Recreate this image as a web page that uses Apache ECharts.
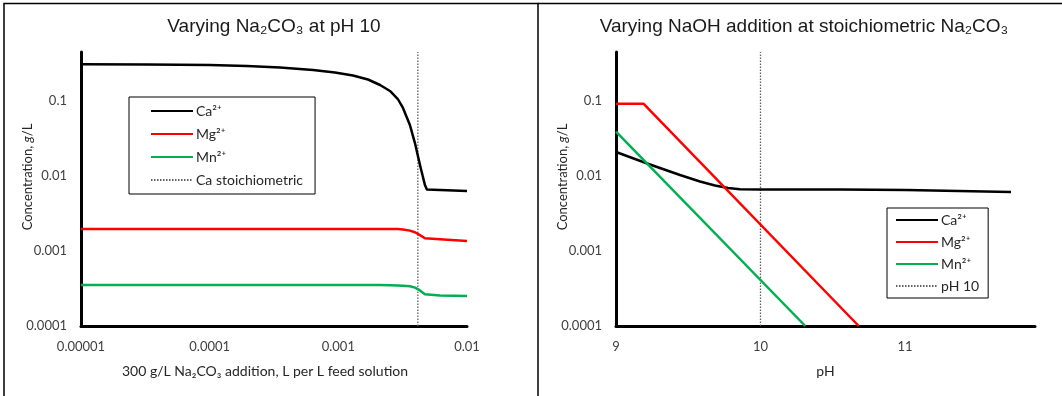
<!DOCTYPE html>
<html>
<head>
<meta charset="utf-8">
<script src="https://cdn.jsdelivr.net/npm/echarts@6/dist/echarts.min.js"></script>
<style>
  html, body { margin: 0; padding: 0; background: #fff; }
  #chart { width: 1062px; height: 396px; }
</style>
</head>
<body>
<div id="chart"></div>
<script>
// Left panel: 300 g/L Na2CO3 dose (L per L feed) at pH 10
const doseLperL = [1e-5, 3.26e-5, 1e-4, 1.95e-4, 3.52e-4, 6.36e-4, 9.41e-4, 1.30e-3, 1.70e-3, 2.11e-3, 2.52e-3, 2.90e-3, 3.18e-3, 3.60e-3, 3.94e-3, 4.31e-3, 4.71e-3, 4.88e-3, 6.16e-3, 1e-2];
const caVsDose = [0.308, 0.306, 0.301, 0.293, 0.280, 0.259, 0.240, 0.219, 0.1935, 0.1634, 0.136, 0.1063, 0.0807, 0.0479, 0.0275, 0.0140, 0.00759, 0.0066, 0.0065, 0.0063];
const mgVsDose = [0.00197, 0.00197, 0.00197, 0.00197, 0.00197, 0.00197, 0.00197, 0.00197, 0.00197, 0.00197, 0.00197, 0.00196, 0.00194, 0.00187, 0.00178, 0.00163, 0.00148, 0.00145, 0.00143, 0.00136];
const mnVsDose = [0.000352, 0.000352, 0.000352, 0.000352, 0.000352, 0.000352, 0.000352, 0.000352, 0.000352, 0.000352, 0.000350, 0.000348, 0.000345, 0.000338, 0.000325, 0.000298, 0.000265, 0.000259, 0.000255, 0.000251];
const caStoichDose = 4.15e-3;

// Right panel: NaOH addition expressed as pH, stoichiometric Na2CO3
const caPH = [9, 9.235, 9.443, 9.581, 9.685, 9.775, 9.858, 9.997, 10.55, 11.007, 11.734];
const caVsPH = [0.0209, 0.01424, 0.01031, 0.00845, 0.00747, 0.00692, 0.00667, 0.00661, 0.00661, 0.00651, 0.00612];
const mgPH = [9, 9.19, 10.68];
const mgVsPH = [0.092, 0.092, 0.0001];
const mnPH = [9, 10.31];
const mnVsPH = [0.039, 0.0001];
const referencePH = 10;

const concMin = 0.0001, concMax = 0.45;
const labelFont = 'Lato';
const titleFont = '"Liberation Sans", Arial';

function zip(xs, ys) { return xs.map((x, i) => [x, ys[i]]); }

function logLabel(v) {
  const l = Math.log10(v);
  const e = Math.round(l);
  if (Math.abs(l - e) > 1e-6) return '';
  return e >= 0 ? String(Math.pow(10, e)) : Math.pow(10, e).toFixed(-e);
}

const axisLineStyle = { show: true, lineStyle: { color: '#000', width: 3 } };
const labelStyle = { color: '#404040', fontFamily: labelFont, fontSize: 13 };

function concAxis(gridIndex) {
  return {
    type: 'log', logBase: 10, gridIndex, min: concMin, max: concMax,
    axisLine: axisLineStyle, axisTick: { show: false }, splitLine: { show: false },
    axisLabel: Object.assign({ formatter: logLabel, margin: 14, showMaxLabel: false }, labelStyle),
    name: '{a|Concentration, }{i|g}{a|/L}', nameLocation: 'middle', nameGap: 47,
    nameMoveOverlap: false,
    nameTextStyle: { padding: [0, 0, 0, 24], rich: {
      a: { fontFamily: labelFont, fontSize: 13, color: '#262626' },
      i: { fontFamily: labelFont, fontSize: 13, color: '#262626', fontStyle: 'italic' }
    } }
  };
}

const dotted = { color: '#606060', width: 1.3, type: [1.5, 1.5] };
const lineDefaults = { type: 'line', symbol: 'none', showSymbol: false, smooth: false, z: 3 };

function legendBox(names, left, top, padding, gap) {
  return {
    data: names, orient: 'vertical', left, top, padding, itemGap: gap,
    itemWidth: 42, itemHeight: 14,
    itemStyle: { opacity: 0 },
    backgroundColor: '#fff', borderColor: '#000', borderWidth: 1, borderRadius: 0,
    textStyle: { fontFamily: labelFont, fontSize: 14, color: '#262626', padding: [0, 0, 0, -2] },
    selectedMode: false
  };
}

const option = {
  animation: false,
  backgroundColor: '#fff',
  grid: [
    { left: 81, top: 52, width: 386, height: 274 },
    { left: 616, top: 52, width: 419, height: 274 }
  ],
  xAxis: [
    {
      type: 'log', logBase: 10, gridIndex: 0, min: 1e-5, max: 1e-2,
      axisLine: axisLineStyle, axisTick: { show: false }, splitLine: { show: false },
      axisLabel: Object.assign({ formatter: logLabel, margin: 14 }, labelStyle),
      name: '300 g/L Na\u2082CO\u2083 addition, L per L feed solution',
      nameLocation: 'middle', nameGap: 38,
      nameTextStyle: { fontFamily: labelFont, fontSize: 14, color: '#262626', padding: [0, 18, 0, 0] }
    },
    {
      type: 'value', gridIndex: 1, min: 9, max: 11.9, interval: 1,
      axisLine: axisLineStyle, axisTick: { show: false }, splitLine: { show: false },
      axisLabel: Object.assign({
        formatter: v => (Math.abs(v - Math.round(v)) < 1e-6 ? String(Math.round(v)) : ''),
        margin: 14, showMaxLabel: false
      }, labelStyle),
      name: 'pH', nameLocation: 'middle', nameGap: 38,
      nameTextStyle: { fontFamily: labelFont, fontSize: 14, color: '#262626' }
    }
  ],
  yAxis: [concAxis(0), concAxis(1)],
  legend: [
    legendBox(['Ca\u00b2\u207a', 'Mg\u00b2\u207a', 'Mn\u00b2\u207a', 'Ca stoichiometric'], 129, 97, [7, 12, 7, 21], 9),
    legendBox(['Ca\u00b2\u207a', 'Mg\u00b2\u207a', 'Mn\u00b2\u207a', 'pH 10'], 887, 208, [5, 9, 5, 8], 8)
  ],
  series: [
    Object.assign({}, lineDefaults, { name: 'Ca\u00b2\u207a', xAxisIndex: 0, yAxisIndex: 0,
      data: zip(doseLperL, caVsDose), lineStyle: { color: '#000', width: 2.5, join: 'round' }, itemStyle: { color: '#000' } }),
    Object.assign({}, lineDefaults, { name: 'Mg\u00b2\u207a', xAxisIndex: 0, yAxisIndex: 0,
      data: zip(doseLperL, mgVsDose), lineStyle: { color: '#ff0000', width: 2.5, join: 'round' }, itemStyle: { color: '#ff0000' } }),
    Object.assign({}, lineDefaults, { name: 'Mn\u00b2\u207a', xAxisIndex: 0, yAxisIndex: 0,
      data: zip(doseLperL, mnVsDose), lineStyle: { color: '#00b050', width: 2.5, join: 'round' }, itemStyle: { color: '#00b050' } }),
    Object.assign({}, lineDefaults, { name: 'Ca stoichiometric', xAxisIndex: 0, yAxisIndex: 0, z: 2,
      data: [[caStoichDose, concMin], [caStoichDose, concMax]], lineStyle: dotted, itemStyle: { color: '#606060' } }),

    Object.assign({}, lineDefaults, { name: 'Ca\u00b2\u207a', xAxisIndex: 1, yAxisIndex: 1,
      data: zip(caPH, caVsPH), lineStyle: { color: '#000', width: 2.5, join: 'round' }, itemStyle: { color: '#000' } }),
    Object.assign({}, lineDefaults, { name: 'Mg\u00b2\u207a', xAxisIndex: 1, yAxisIndex: 1,
      data: zip(mgPH, mgVsPH), lineStyle: { color: '#ff0000', width: 2.5, join: 'round' }, itemStyle: { color: '#ff0000' } }),
    Object.assign({}, lineDefaults, { name: 'Mn\u00b2\u207a', xAxisIndex: 1, yAxisIndex: 1,
      data: zip(mnPH, mnVsPH), lineStyle: { color: '#00b050', width: 2.5 }, itemStyle: { color: '#00b050' } }),
    Object.assign({}, lineDefaults, { name: 'pH 10', xAxisIndex: 1, yAxisIndex: 1, z: 2,
      data: [[referencePH, concMin], [referencePH, concMax]], lineStyle: dotted, itemStyle: { color: '#606060' } })
  ],
  graphic: [
    // panel frames
    { type: 'rect', shape: { x: 4, y: 3.5, width: 534, height: 420 }, style: { fill: 'none', stroke: '#000', lineWidth: 1.5 }, silent: true, z: 100 },
    { type: 'line', shape: { x1: 538, y1: 3.5, x2: 1062, y2: 3.5 }, style: { stroke: '#000', lineWidth: 1.5 }, silent: true, z: 100 },
    // panel titles
    { type: 'text', x: 274, y: 27, style: { text: 'Varying Na\u2082CO\u2083 at pH 10', textAlign: 'center', textVerticalAlign: 'middle', font: '19px ' + titleFont, fill: '#1a1a1a' }, z: 100 },
    { type: 'text', x: 804, y: 27, style: { text: 'Varying NaOH addition at stoichiometric Na\u2082CO\u2083', textAlign: 'center', textVerticalAlign: 'middle', font: '19px ' + titleFont, fill: '#1a1a1a' }, z: 100 }
  ]
};

const chart = echarts.init(document.getElementById('chart'), null, { renderer: 'canvas' });
chart.setOption(option);
</script>
</body>
</html>
